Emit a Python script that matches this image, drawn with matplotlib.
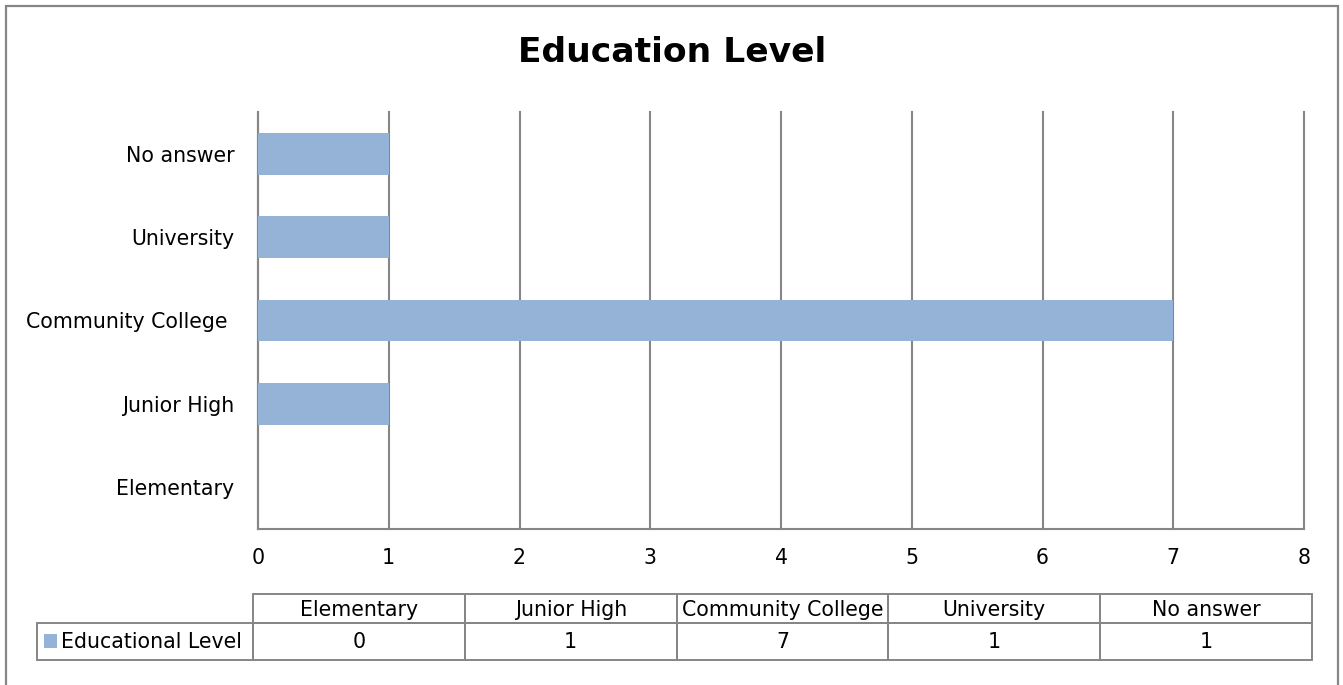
import matplotlib
matplotlib.use("Agg")
import matplotlib.pyplot as plt
from matplotlib.patches import Rectangle

# ---- data ----
categories = ['Elementary', 'Junior High', 'Community College ', 'University', 'No answer']
values = [0, 1, 7, 1, 1]
series_name = 'Educational Level'
title = 'Education Level'
x_ticks = [0, 1, 2, 3, 4, 5, 6, 7, 8]

BAR = '#95B3D7'
GRID = '#868686'
FONT = 'DejaVu Sans'
FS = 14.8
plt.rcParams['font.family'] = [FONT]

W, H = 1343, 685
fig = plt.figure(figsize=(W / 100, H / 100), dpi=100)

def fx(px):
    return px / W

def fy(py):
    return 1 - py / H

def rect(x0, y0, x1, y1, **kw):
    """rectangle given in pixel coordinates (top-left origin)"""
    return Rectangle((fx(x0), fy(y1)), fx(x1) - fx(x0), fy(y0) - fy(y1),
                     transform=fig.transFigure, clip_on=False, **kw)

# figure border
fig.patches.append(rect(6, 6, 1338, 700, fill=False, edgecolor=GRID, linewidth=1.6))

# plot area
L, R, T, B = 258, 1304, 112, 529
ax = fig.add_axes([fx(L), fy(B), fx(R) - fx(L), fy(T) - fy(B)])
y = list(range(len(categories)))
ax.barh(y, values, height=0.5, color=BAR, zorder=3)
ax.set_xlim(0, 8)
ax.set_ylim(-0.5, len(categories) - 0.5)
ax.set_xticks(x_ticks)
ax.set_xticklabels([str(t) for t in x_ticks])
ax.set_yticks(y)
ax.set_yticklabels(categories)
ax.tick_params(axis='both', length=0, labelsize=FS, colors='black')
ax.tick_params(axis='x', pad=14)
ax.tick_params(axis='y', pad=17)
ax.grid(axis='x', color=GRID, linewidth=1.5, zorder=1)
ax.grid(axis='y', visible=False)
for gl in ax.get_xgridlines():
    gl.set_clip_on(False)
for s in ['top', 'right']:
    ax.spines[s].set_visible(False)
for s in ['left', 'bottom']:
    ax.spines[s].set_color(GRID)
    ax.spines[s].set_linewidth(1.5)
ax.set_axisbelow(True)

fig.text(fx(672), fy(53), title, ha='center', va='center',
         fontsize=24.8, fontweight='bold')

# ---- data table (pixel layout) ----
tL, tR, tT, tMid, tB = 37, 1312, 594, 623, 660
lab_w = 216
col_w = (tR - tL - lab_w) / len(categories)
LW = 1.4
for j, c in enumerate(categories):
    x0 = tL + lab_w + j * col_w
    fig.patches.append(rect(x0, tT, x0 + col_w, tMid, fill=False, edgecolor=GRID, linewidth=LW))
    fig.text(fx(x0 + col_w / 2), fy((tT + tMid) / 2 + 1), c.strip(), ha='center', va='center', fontsize=FS)
for j, v in enumerate(values):
    x0 = tL + lab_w + j * col_w
    fig.patches.append(rect(x0, tMid, x0 + col_w, tB, fill=False, edgecolor=GRID, linewidth=LW))
    fig.text(fx(x0 + col_w / 2), fy((tMid + tB) / 2 + 1), str(v), ha='center', va='center', fontsize=FS)
fig.patches.append(rect(tL, tMid, tL + lab_w, tB, fill=False, edgecolor=GRID, linewidth=LW))
fig.patches.append(rect(44, 634, 57, 648, facecolor=BAR, edgecolor='none'))
fig.text(fx(61), fy((tMid + tB) / 2 + 1), series_name, ha='left', va='center', fontsize=FS)

fig.savefig('out.png', dpi=100)
